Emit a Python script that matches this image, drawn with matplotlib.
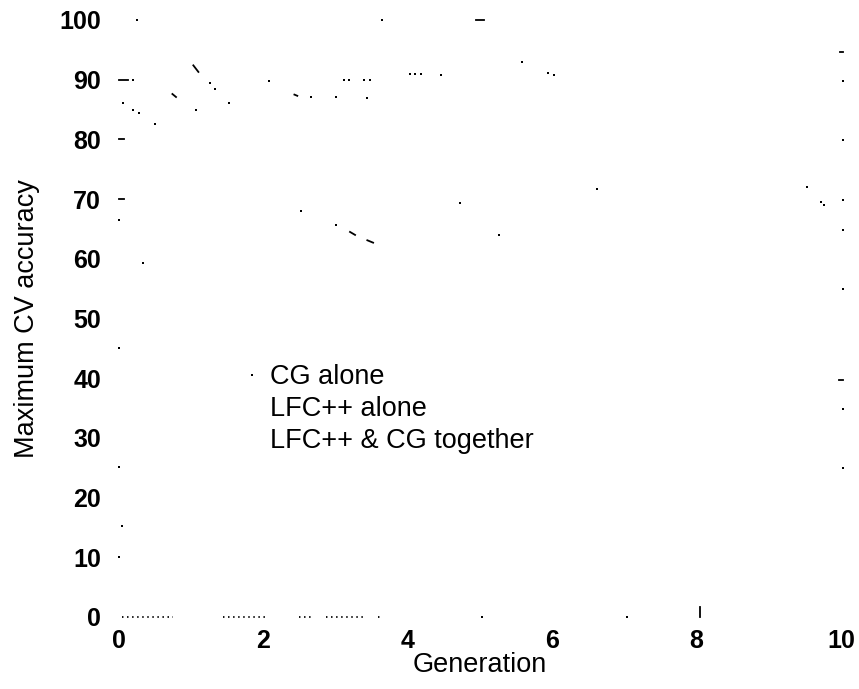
import matplotlib
matplotlib.use("Agg")
import matplotlib.pyplot as plt

# what is left visible of the curves in the scanned figure (generation, accuracy)
dot_gen = [0.25, 3.64, 0.20, 1.26, 1.33, 1.52, 0.06, 0.20, 0.28, 0.50,
           1.07, 2.08, 2.66, 3.00, 3.12, 3.18, 3.39, 3.48, 3.43, 4.03,
           4.10, 4.18, 4.46, 5.58, 5.94, 6.02,
           0.00, 2.52, 3.00, 4.72, 5.26, 6.62, 9.53, 9.73, 9.77,
           10.03, 10.03, 10.03, 10.03, 10.03, 10.03, 10.03,
           0.33, 0.00, 0.00, 0.04, 0.00, 1.84, 5.03, 7.04]
dot_acc = [100.0, 100.0, 90.0, 89.4, 88.5, 86.1, 86.1, 85.0, 84.4, 82.6,
           84.9, 89.8, 87.1, 87.1, 90.0, 90.0, 90.0, 90.0, 86.9, 91.0,
           91.0, 91.0, 90.8, 93.0, 91.1, 90.8,
           66.5, 68.0, 65.7, 69.3, 64.0, 71.7, 72.0, 69.5, 69.0,
           89.8, 79.9, 69.8, 64.8, 55.0, 34.8, 25.0,
           59.3, 45.0, 25.2, 15.3, 10.0, 40.5, 0.0, 0.0]

# short strokes
seg_gen0 = [1.03, 0.74, 2.43, 3.20, 3.44, 4.95, 9.98, 9.97, 0.00, 0.00, 0.00, 8.05]
seg_gen1 = [1.10, 0.79, 2.47, 3.27, 3.52, 5.05, 10.03, 10.03, 0.12, 0.07, 0.07, 8.05]
seg_acc0 = [92.4, 87.6, 87.5, 64.5, 63.1, 100.0, 94.6, 39.7, 90.0, 80.0, 70.0, 0.0]
seg_acc1 = [91.3, 87.1, 87.3, 64.0, 62.7, 100.0, 94.6, 39.7, 90.0, 80.0, 70.0, 1.7]

# dotted runs along accuracy = 0
run_gen0 = [0.04, 1.44, 2.50, 2.87, 3.59]
run_gen1 = [0.75, 2.02, 2.67, 3.38, 3.66]

labels = ["CG alone", "LFC++ alone", "LFC++ & CG together"]

plt.rcParams["font.family"] = ["Liberation Sans", "DejaVu Sans"]

fig = plt.figure(figsize=(8.59, 6.89), dpi=100)
ax = fig.add_axes([0.1385, 0.1045, 0.8405, 0.8665])

ax.plot(dot_gen, dot_acc, "s", color="black", markersize=1.6,
        markeredgewidth=0, clip_on=False)

for i in range(len(seg_gen0)):
    ax.plot([seg_gen0[i], seg_gen1[i]], [seg_acc0[i], seg_acc1[i]],
            "-", color="black", linewidth=1.3, clip_on=False)

for i in range(len(run_gen0)):
    ax.plot([run_gen0[i], run_gen1[i]], [0, 0], color="black",
            linewidth=1.3, dashes=(0.8, 2.0), clip_on=False)

for i, lab in enumerate(labels):
    ax.text(2.09, 40.2 - i * 5.35, lab, fontsize=19.5, va="center", ha="left")

ax.set_xlim(0, 10)
ax.set_ylim(0, 100)
ax.set_xticks(range(0, 11, 2))
ax.set_yticks(range(0, 101, 10))
for s in ax.spines.values():
    s.set_visible(False)
ax.tick_params(axis="both", length=0, labelsize=18)
ax.tick_params(axis="y", pad=13)
ax.tick_params(axis="x", pad=9)
for t in ax.get_xticklabels() + ax.get_yticklabels():
    t.set_fontweight("bold")

ax.set_xlabel("Generation", fontsize=19.5, labelpad=-1)
ax.set_ylabel("Maximum CV accuracy", fontsize=19.5, labelpad=14)

fig.savefig("out.png", dpi=100)
